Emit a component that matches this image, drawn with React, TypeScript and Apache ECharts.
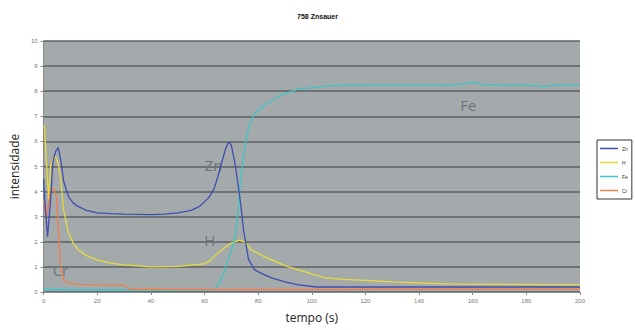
import React, { useEffect, useRef } from "react";
import * as echarts from "echarts";

const xTicks = [0, 20, 40, 60, 80, 100, 120, 140, 160, 180, 200];

const znT = [0, 0.5, 1.5, 2.5, 3.5, 4.5, 5.5, 6.5, 7.5, 9.3, 11, 13, 16, 20, 25, 30, 40, 45, 50, 55, 58, 61.5, 63.5, 65, 66.5, 68, 69, 70, 71.4, 72.5, 73.5, 74.5, 76.4, 78.7, 82, 85, 90, 95, 102, 120, 140, 160, 180, 200];
const znV = [4.5, 3.6, 2.2, 3.5, 5.2, 5.6, 5.75, 5.2, 4.4, 3.8, 3.55, 3.4, 3.25, 3.15, 3.12, 3.1, 3.08, 3.1, 3.15, 3.25, 3.4, 3.75, 4.1, 4.6, 5.2, 5.75, 5.98, 5.85, 5.1, 4.3, 3.5, 2.5, 1.3, 0.88, 0.7, 0.56, 0.4, 0.28, 0.2, 0.2, 0.2, 0.2, 0.2, 0.2];

const hT = [0.3, 1, 1.9, 2.6, 3.5, 4.5, 5.5, 6.3, 7.4, 9.3, 11, 13, 16, 20, 25, 30, 40, 50, 55, 60, 62, 65, 68, 70, 73, 75, 77.5, 82.5, 90, 95, 100, 105, 112, 120, 130, 150, 175, 200];
const hV = [6.65, 5.3, 3.67, 5.0, 5.3, 5.4, 5.1, 4.6, 3.3, 2.35, 1.95, 1.67, 1.45, 1.28, 1.15, 1.08, 1.0, 1.02, 1.07, 1.12, 1.25, 1.55, 1.8, 1.95, 2.07, 2.0, 1.67, 1.4, 1.05, 0.88, 0.72, 0.56, 0.5, 0.46, 0.4, 0.32, 0.3, 0.28];

const feT = [0, 20, 40, 60, 63.8, 66, 67.6, 69.5, 71.4, 72.6, 73.5, 75, 76.8, 78.7, 82.4, 88.7, 95, 107, 125, 150, 157, 160, 163, 175, 184, 186, 190, 200];
const feV = [0.1, 0.08, 0.08, 0.08, 0.1, 0.45, 0.88, 1.5, 2.1, 3.3, 4.5, 5.8, 6.7, 7.1, 7.45, 7.85, 8.08, 8.22, 8.25, 8.25, 8.28, 8.37, 8.27, 8.24, 8.22, 8.17, 8.24, 8.25];

const crT = [0, 0.6, 1.2, 2.6, 3.7, 4.8, 5.6, 6.3, 7.4, 9.3, 14, 20.4, 30, 32, 50, 100, 150, 200];
const crV = [3.67, 3.15, 3.0, 4.06, 4.14, 3.8, 2.35, 1.0, 0.48, 0.36, 0.3, 0.28, 0.26, 0.12, 0.1, 0.1, 0.12, 0.12];

const seriesNames = ["Zn", "H", "Fe", "Cr"];
const seriesColors = ["#3d4fae", "#e6dc3c", "#3cc6c8", "#ee8050"];
// in-plot labels: [t, value]
const labelPos: [number, number][] = [[63.4, 5.06], [62, 2.07], [158.4, 7.45], [6.3, 0.88]];

const pairs = (t: number[], v: number[]) => t.map((x, i) => [x, v[i]]);

export default function App() {
  const ref = useRef<HTMLDivElement>(null);
  useEffect(() => {
    if (!ref.current) return;
    const chart = echarts.init(ref.current, null, { renderer: "svg" });
    const datas = [pairs(znT, znV), pairs(hT, hV), pairs(feT, feV), pairs(crT, crV)];
    chart.setOption({
      animation: false,
      backgroundColor: "#ffffff",
      title: {
        text: "758 Znsauer",
        left: "center",
        top: 8,
        textStyle: { fontSize: 7, fontWeight: "bold", color: "#111", fontFamily: "Liberation Sans" },
      },
      legend: {
        orient: "vertical",
        left: 597,
        top: 140,
        data: seriesNames.map((n) => ({ name: n, textStyle: { color: "#333" } })),
        icon: "rect",
        itemWidth: 18,
        itemHeight: 1.5,
        itemGap: 9,
        padding: [6, 4, 6, 3],
        borderColor: "#333",
        borderWidth: 1,
        backgroundColor: "#ffffff",
        textStyle: { fontSize: 5, color: "#333", fontFamily: "Liberation Sans", padding: [0, 0, 0, -1] },
      },
      grid: { left: 41, right: 55, top: 41, bottom: 38, show: true, backgroundColor: "#a4a9ac", borderColor: "#a4a9ac", borderWidth: 0 },
      xAxis: {
        type: "value",
        min: 0,
        max: 200,
        interval: 20,
        name: "tempo (s)",
        nameLocation: "middle",
        nameGap: 19,
        nameTextStyle: { fontSize: 12, color: "#222", fontFamily: "Open Sans" },
        axisLine: { show: true, lineStyle: { color: "#888", width: 1 } },
        axisTick: { show: true, length: 3, lineStyle: { color: "#888" } },
        axisLabel: { fontSize: 6, color: "#777", margin: 6, fontFamily: "Liberation Sans",
          formatter: (v: number) => (xTicks.includes(v) ? String(v) : "") },
        splitLine: { show: false },
      },
      yAxis: {
        type: "value",
        min: 0,
        max: 10,
        interval: 1,
        name: "intensidade",
        nameLocation: "middle",
        nameGap: 23,
        nameRotate: 90,
        nameTextStyle: { fontSize: 12, color: "#222", fontFamily: "Open Sans" },
        axisLine: { show: true, lineStyle: { color: "#888", width: 1 } },
        axisTick: { show: true, length: 3, lineStyle: { color: "#888" } },
        axisLabel: { fontSize: 6, color: "#777", margin: 6, fontFamily: "Liberation Sans" },
        splitLine: { show: true, lineStyle: { color: "#5c6062", width: 1.5 } },
      },
      series: seriesNames.map((name, i) => ({
        name,
        type: "line",
        data: datas[i],
        showSymbol: false,
        symbol: "none",
        color: seriesColors[i],
        lineStyle: { width: 1.3, color: seriesColors[i] },
        z: i === 0 ? 5 : 3,
        markPoint: {
          symbol: "circle",
          symbolSize: 0,
          data: [{ coord: labelPos[i], value: name }],
          label: { show: true, position: "inside", formatter: name, fontSize: 15, color: "#707375", fontFamily: "Open Sans" },
        },
      })),
    });
    return () => chart.dispose();
  }, []);
  return <div ref={ref} style={{ position: "absolute", left: 0, top: 0, width: 635, height: 330 }} />;
}
